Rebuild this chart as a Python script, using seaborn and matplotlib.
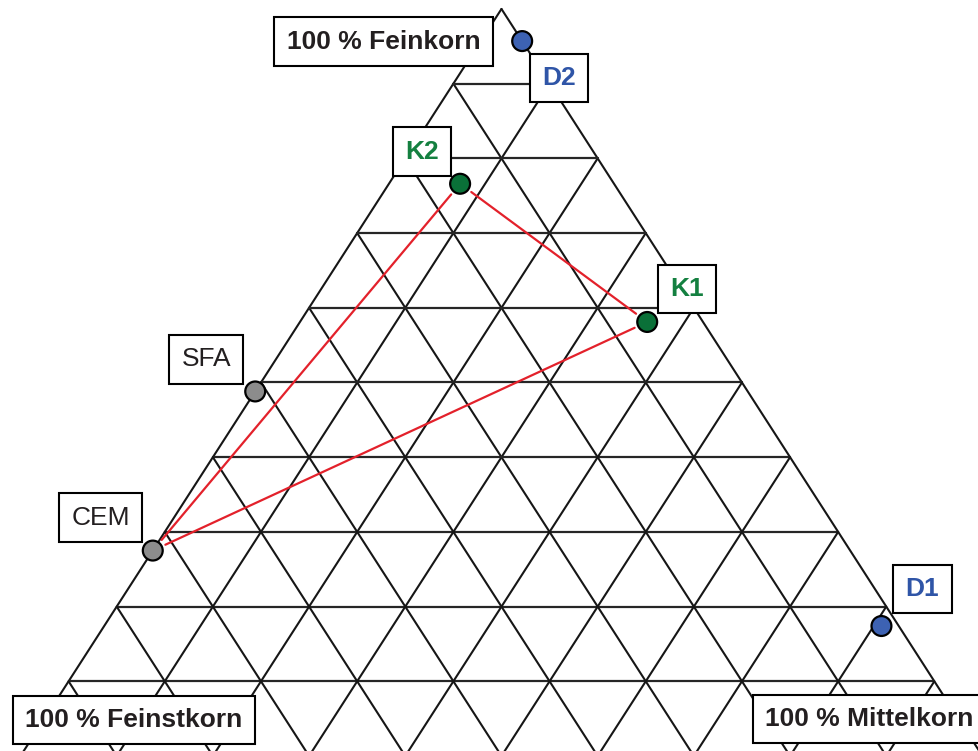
import matplotlib
matplotlib.use("Agg")
import matplotlib.pyplot as plt
import pandas as pd
import seaborn as sns

# ternary data, percent (Feinkorn = top, Feinstkorn = bottom left, Mittelkorn = bottom right)
names = ["D2", "K2", "K1", "SFA", "CEM", "D1"]
feinkorn = [95.7, 76.6, 58.1, 48.8, 27.5, 17.4]
feinstkorn = [0.0, 16.0, 5.8, 51.2, 72.5, 1.8]
mittelkorn = [4.3, 7.4, 36.1, 0.0, 0.0, 80.8]

# which mixtures are connected by red lines
links = [("K2", "K1"), ("K1", "CEM"), ("K2", "CEM")]

corner_labels = ["100 % Feinkorn", "100 % Feinstkorn", "100 % Mittelkorn"]
grid_steps = list(range(0, 11))


def to_xy(fein, mittel):
    # base from (0,0) to (1,0), apex at (0.5, 1)
    return mittel / 100 + 0.5 * fein / 100, fein / 100


df = pd.DataFrame({
    "name": names,
    "fein": feinkorn,
    "feinst": feinstkorn,
    "mittel": mittelkorn,
})
df["x"], df["y"] = to_xy(df["fein"], df["mittel"])

sns.set_theme(style="white")
plt.rcParams["font.family"] = ["Liberation Sans", "DejaVu Sans"]

fig = plt.figure(figsize=(9.79, 7.51), dpi=100)
ax = fig.add_axes([0, 0, 1, 1])
ax.set_xlim(-0.0213, 0.9964)
ax.set_ylim(0.0067, 1.012)
ax.axis("off")

grid_color = "#161616"
for k in grid_steps:
    v = k * 10
    # constant Feinkorn (horizontal)
    x1, y1 = to_xy(v, 0)
    x2, y2 = to_xy(v, 100 - v)
    ax.plot([x1, x2], [y1, y2], color="#262626", lw=1.6, zorder=1)
    # constant Mittelkorn
    x1, y1 = to_xy(0, v)
    x2, y2 = to_xy(100 - v, v)
    ax.plot([x1, x2], [y1, y2], color=grid_color, lw=1.5, zorder=1)
    # constant Feinstkorn
    x1, y1 = to_xy(0, 100 - v)
    x2, y2 = to_xy(100 - v, 0)
    ax.plot([x1, x2], [y1, y2], color=grid_color, lw=1.5, zorder=1)

pos = df.set_index("name")
for a, b in links:
    ax.annotate(
        "",
        xy=(pos.loc[b, "x"], pos.loc[b, "y"]),
        xytext=(pos.loc[a, "x"], pos.loc[a, "y"]),
        arrowprops=dict(arrowstyle="-", color="#e3212b", lw=1.6,
                        shrinkA=10, shrinkB=10),
        zorder=3,
    )

palette = {
    "D2": "#3d62b3", "D1": "#3d62b3",
    "K2": "#0a7038", "K1": "#0a7038",
    "SFA": "#8c8c8c", "CEM": "#8c8c8c",
}
sns.scatterplot(
    data=df, x="x", y="y", hue="name", palette=palette,
    s=205, edgecolor="black", linewidth=1.6, legend=False, ax=ax, zorder=4,
)

text_style = {
    "D2": ("#2f55a7", "bold", (37, -37)),
    "D1": ("#2f55a7", "bold", (41, 37)),
    "K2": ("#148040", "bold", (-38, 32)),
    "K1": ("#148040", "bold", (40, 33)),
    "SFA": ("#231f20", "normal", (-49, 32)),
    "CEM": ("#231f20", "normal", (-52, 33)),
}
box = dict(boxstyle="square,pad=0.47", fc="white", ec="black", lw=1.5)
for _, row in df.iterrows():
    color, weight, off = text_style[row["name"]]
    ax.annotate(
        row["name"], xy=(row["x"], row["y"]), xytext=off,
        textcoords="offset pixels", ha="center", va="center",
        fontsize=19, fontweight=weight, color=color, bbox=box, zorder=5,
    )

corner_pos = [(0.3917, 0.9447, "center"), (0.1364, 0.0413, "center"),
              (0.7814, 0.0426, "left")]
for label, (cx, cy, ha) in zip(corner_labels, corner_pos):
    ax.text(cx, cy, label, transform=ax.transAxes, ha=ha, va="center",
            fontsize=19, fontweight="bold", color="#231f20", bbox=box,
            zorder=5)

plt.savefig("out.png", dpi=100)
plt.close()
